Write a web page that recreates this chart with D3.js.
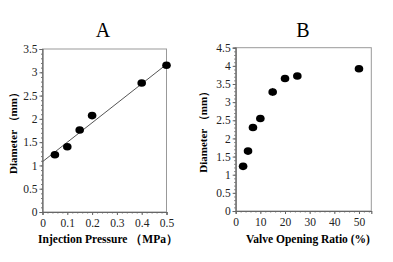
<!DOCTYPE html>
<html><head><meta charset="utf-8">
<script src="https://cdn.jsdelivr.net/npm/d3@7"></script>
<style>body{margin:0;background:#fff}svg{display:block}text{font-family:"Liberation Serif","Times New Roman",serif}</style>
</head><body><svg id="c" width="393" height="262"></svg>
<script>
const pressureA = [0.05, 0.1, 0.15, 0.2, 0.4, 0.5];
const diameterA = [1.23, 1.40, 1.76, 2.07, 2.77, 3.15];
const errA = [0.04, 0.04, 0.06, 0.04, 0.04, 0.04];
const fitA = [[0, 1.08], [0.5, 3.17]];
const ticksAx = [0, 0.1, 0.2, 0.3, 0.4, 0.5];
const ticksAy = [0, 0.5, 1, 1.5, 2, 2.5, 3, 3.5];

const ratioB = [3, 5, 7, 10, 15, 20, 25, 50];
const diameterB = [1.23, 1.65, 2.30, 2.55, 3.28, 3.65, 3.72, 3.92];
const errB = [0.04, 0.04, 0.05, 0.09, 0.11, 0.05, 0.05, 0.04];
const ticksBx = [0, 10, 20, 30, 40, 50];
const ticksBy = [0, 0.5, 1, 1.5, 2, 2.5, 3, 3.5, 4, 4.5];

const svg = d3.select('#c');

function panel(o){
  const g = svg.append('g');
  const x = d3.scaleLinear().domain(o.xd).range([o.l, o.r]);
  const y = d3.scaleLinear().domain(o.yd).range([o.b, o.t]);
  g.append('rect').attr('x', o.l).attr('y', o.t).attr('width', o.r - o.l).attr('height', o.b - o.t)
    .attr('fill', 'none').attr('stroke', '#999').attr('stroke-width', 1);
  const minorY = d3.range(o.yd[0], o.yd[1] + 1e-9, o.ymin);
  const minorX = d3.range(o.xd[0], o.xd[1] + 1e-9, o.xmin);
  g.append('g').attr('transform', `translate(${o.l},0)`)
    .call(d3.axisLeft(y).tickValues(minorY).tickSize(1.5).tickFormat(''))
    .call(a => a.select('.domain').remove())
    .selectAll('line').attr('stroke', '#777');
  g.append('g').attr('transform', `translate(0,${o.b})`)
    .call(d3.axisBottom(x).tickValues(minorX).tickSize(1.5).tickFormat(''))
    .call(a => a.select('.domain').remove())
    .selectAll('line').attr('stroke', '#777');
  const ay = g.append('g').attr('transform', `translate(${o.l},0)`)
    .call(d3.axisLeft(y).tickValues(o.yt).tickSize(3).tickPadding(2).tickFormat(d => String(d)));
  const ax = g.append('g').attr('transform', `translate(0,${o.b})`)
    .call(d3.axisBottom(x).tickValues(o.xt).tickSize(3).tickPadding(4).tickFormat(d => String(d)));
  [ay, ax].forEach(a => {
    a.select('.domain').attr('stroke', '#666').attr('stroke-width', 1.2);
    a.selectAll('line').attr('stroke', '#666');
    a.selectAll('text').attr('font-size', 11.5).attr('fill', '#222')
      .style('font-family', '"Liberation Serif",serif');
  });
  if (o.fit) {
    g.append('line').attr('x1', x(o.fit[0][0])).attr('y1', y(o.fit[0][1]))
      .attr('x2', x(o.fit[1][0])).attr('y2', y(o.fit[1][1]))
      .attr('stroke', '#555').attr('stroke-width', 1);
  }
  o.xs.forEach((v, i) => {
    g.append('line').attr('x1', x(v)).attr('x2', x(v))
      .attr('y1', y(o.ys[i] - o.es[i])).attr('y2', y(o.ys[i] + o.es[i]))
      .attr('stroke', '#333').attr('stroke-width', 1);
  });
  g.selectAll('ellipse.pt').data(o.xs).enter().append('ellipse')
    .attr('cx', d => x(d)).attr('cy', (d, i) => y(o.ys[i]))
    .attr('rx', 4.3).attr('ry', 3.8).attr('fill', '#000');
  g.append('text').attr('x', o.titleX).attr('y', 37).attr('text-anchor', 'middle')
    .attr('font-size', 20).text(o.title);
  g.append('text').attr('transform', `translate(${o.ylx},${(o.t + o.b) / 2}) rotate(-90)`)
    .attr('text-anchor', 'middle').attr('font-size', 11).attr('font-weight', 'bold').text(o.ylab);
  g.append('text').attr('x', o.xlx).attr('y', 243).attr('text-anchor', 'middle')
    .attr('font-size', 11.5).attr('font-weight', 'bold').text(o.xlab);
}

panel({l: 42.5, r: 166.5, t: 49, b: 212, xd: [0, 0.5], yd: [0, 3.5], xt: ticksAx, yt: ticksAy,
  xmin: 0.02, ymin: 0.1, xs: pressureA, ys: diameterA, es: errA, fit: fitA,
  title: 'A', titleX: 103, ylab: 'Diameter （mm）', ylx: 17, xlab: 'Injection Pressure （MPa）', xlx: 108});
panel({l: 235.7, r: 371.3, t: 47.7, b: 211, xd: [0, 55], yd: [0, 4.5], xt: ticksBx, yt: ticksBy,
  xmin: 2, ymin: 0.1, xs: ratioB, ys: diameterB, es: errB,
  title: 'B', titleX: 303, ylab: 'Diameter （mm）', ylx: 207, xlab: 'Valve Opening Ratio (%)', xlx: 308});
</script></body></html>
